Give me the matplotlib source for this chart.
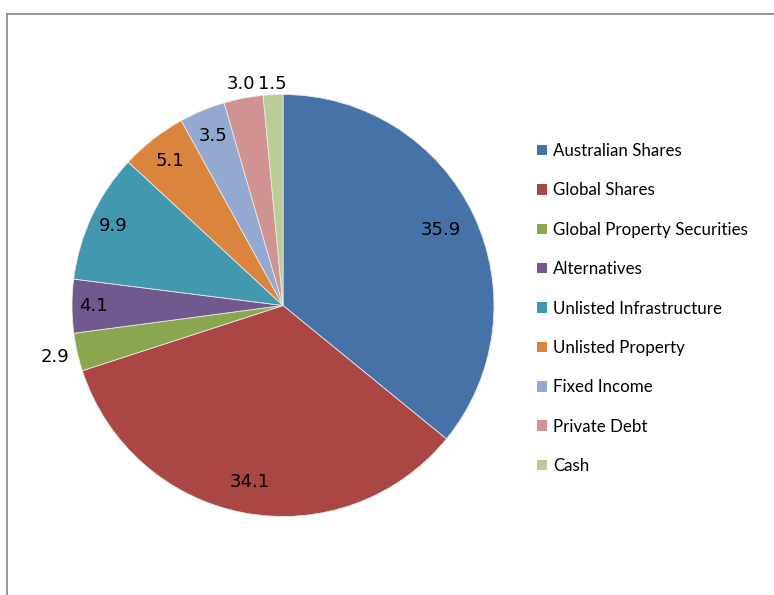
import matplotlib
matplotlib.use("Agg")
import matplotlib.pyplot as plt
import numpy as np
from matplotlib.lines import Line2D

categories = ["Australian Shares", "Global Shares", "Global Property Securities",
              "Alternatives", "Unlisted Infrastructure", "Unlisted Property",
              "Fixed Income", "Private Debt", "Cash"]
values = [35.9, 34.1, 2.9, 4.1, 9.9, 5.1, 3.5, 3.0, 1.5]
value_labels = ["35.9", "34.1", "2.9", "4.1", "9.9", "5.1", "3.5", "3.0", "1.5"]

colors = ["#4672A8", "#AA4644", "#8AA64F", "#71588F", "#4298AF",
          "#DB843D", "#93A9CF", "#D19392", "#B9CD96"]
# radial placement of each value label (fraction of radius)
label_r = [0.83, 0.85, 1.11, 0.90, 0.89, 0.87, 0.87, 1.07, 1.05]

W, H = 774, 595
fig = plt.figure(figsize=(W / 100, H / 100), dpi=100)
fig.patch.set_facecolor("white")

cx, cy, R = 283, 305.5, 211
ax = fig.add_axes([(cx - R) / W, (H - cy - R) / H, 2 * R / W, 2 * R / H])
wedges, _ = ax.pie(values, colors=colors, startangle=90, counterclock=False,
                   radius=1.0, wedgeprops=dict(edgecolor="#e8e8e8", linewidth=0.6))
ax.set_xlim(-1, 1)
ax.set_ylim(-1, 1)
ax.set_aspect("equal")
ax.axis("off")

for w, lab, r in zip(wedges, value_labels, label_r):
    ang = np.deg2rad((w.theta1 + w.theta2) / 2)
    ax.text(r * np.cos(ang), r * np.sin(ang), lab, ha="center", va="center",
            fontsize=13, family="DejaVu Sans", color="black", clip_on=False)

leg = fig.legend(wedges, categories, loc="upper left",
                 bbox_to_anchor=(537 / W, 1 - 143 / H),
                 frameon=False, handlelength=0.58, handleheight=0.58,
                 handletextpad=0.35, labelspacing=1.38, borderpad=0,
                 borderaxespad=0,
                 prop={"family": ["Lato", "DejaVu Sans"], "size": 12.2})
for h in leg.legend_handles:
    h.set_edgecolor("none")

# border lines (top and left)
fig.add_artist(Line2D([6.5 / W, 1.0], [1 - 13.5 / H, 1 - 13.5 / H],
                      transform=fig.transFigure, color="#8c8c8c", linewidth=1.3))
fig.add_artist(Line2D([6.5 / W, 6.5 / W], [0, 1 - 13.5 / H],
                      transform=fig.transFigure, color="#8c8c8c", linewidth=1.3))

fig.savefig("out.png", dpi=100)
